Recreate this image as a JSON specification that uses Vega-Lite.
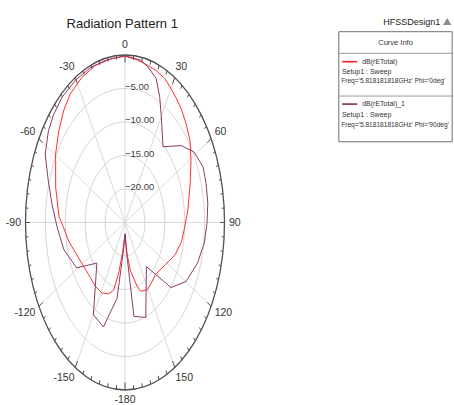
{
  "$schema": "https://vega.github.io/schema/vega-lite/v6.json",
  "width": 199,
  "height": 335,
  "autosize": {"type": "none"},
  "padding": {"left": 25.5, "top": 55, "right": 229.5, "bottom": 15},
  "background": "white",
  "config": {
    "view": {"stroke": null},
    "text": {"font": "Liberation Sans Narrow, Liberation Sans, Arial, sans-serif"}
  },
  "datasets": {
    "curves": [
      {"series": "Phi='0deg'", "angle": -180, "db": -23.3},
      {"series": "Phi='0deg'", "angle": -171.5, "db": -20.1},
      {"series": "Phi='0deg'", "angle": -168.2, "db": -17.3},
      {"series": "Phi='0deg'", "angle": -164.2, "db": -14.5},
      {"series": "Phi='0deg'", "angle": -158.9, "db": -13.6},
      {"series": "Phi='0deg'", "angle": -151.2, "db": -13.0},
      {"series": "Phi='0deg'", "angle": -141.8, "db": -12.9},
      {"series": "Phi='0deg'", "angle": -130.3, "db": -13.0},
      {"series": "Phi='0deg'", "angle": -114.4, "db": -12.2},
      {"series": "Phi='0deg'", "angle": -101.3, "db": -10.6},
      {"series": "Phi='0deg'", "angle": -91.3, "db": -9.3},
      {"series": "Phi='0deg'", "angle": -87, "db": -8.4},
      {"series": "Phi='0deg'", "angle": -73.2, "db": -6.8},
      {"series": "Phi='0deg'", "angle": -62.2, "db": -5.3},
      {"series": "Phi='0deg'", "angle": -59.8, "db": -4.8},
      {"series": "Phi='0deg'", "angle": -50.8, "db": -3.5},
      {"series": "Phi='0deg'", "angle": -42.9, "db": -2.3},
      {"series": "Phi='0deg'", "angle": -35.8, "db": -1.4},
      {"series": "Phi='0deg'", "angle": -26.7, "db": -0.8},
      {"series": "Phi='0deg'", "angle": -17.8, "db": -0.4},
      {"series": "Phi='0deg'", "angle": -7.6, "db": -0.3},
      {"series": "Phi='0deg'", "angle": 0, "db": -0.2},
      {"series": "Phi='0deg'", "angle": 6.4, "db": -0.5},
      {"series": "Phi='0deg'", "angle": 12.5, "db": -0.8},
      {"series": "Phi='0deg'", "angle": 18.9, "db": -1.0},
      {"series": "Phi='0deg'", "angle": 24.9, "db": -1.3},
      {"series": "Phi='0deg'", "angle": 30, "db": -1.9},
      {"series": "Phi='0deg'", "angle": 34.5, "db": -2.4},
      {"series": "Phi='0deg'", "angle": 39.6, "db": -2.9},
      {"series": "Phi='0deg'", "angle": 46.1, "db": -3.7},
      {"series": "Phi='0deg'", "angle": 53.2, "db": -4.6},
      {"series": "Phi='0deg'", "angle": 60.8, "db": -6.0},
      {"series": "Phi='0deg'", "angle": 70.3, "db": -7.6},
      {"series": "Phi='0deg'", "angle": 83.3, "db": -9.1},
      {"series": "Phi='0deg'", "angle": 91.4, "db": -9.9},
      {"series": "Phi='0deg'", "angle": 101.3, "db": -10.5},
      {"series": "Phi='0deg'", "angle": 110.9, "db": -11.5},
      {"series": "Phi='0deg'", "angle": 122, "db": -13.1},
      {"series": "Phi='0deg'", "angle": 135.5, "db": -14.1},
      {"series": "Phi='0deg'", "angle": 141.8, "db": -13.9},
      {"series": "Phi='0deg'", "angle": 150.6, "db": -13.5},
      {"series": "Phi='0deg'", "angle": 159.1, "db": -14.0},
      {"series": "Phi='0deg'", "angle": 162.1, "db": -15.0},
      {"series": "Phi='0deg'", "angle": 169.2, "db": -17.6},
      {"series": "Phi='0deg'", "angle": 173.5, "db": -20.2},
      {"series": "Phi='0deg'", "angle": 180, "db": -23.3},
      {"series": "Phi='90deg'", "angle": -180, "db": -23.3},
      {"series": "Phi='90deg'", "angle": -175, "db": -21.0},
      {"series": "Phi='90deg'", "angle": -170, "db": -13.5},
      {"series": "Phi='90deg'", "angle": -160.8, "db": -8.5},
      {"series": "Phi='90deg'", "angle": -150, "db": -9.1},
      {"series": "Phi='90deg'", "angle": -130.6, "db": -15.7},
      {"series": "Phi='90deg'", "angle": -119.2, "db": -11.1},
      {"series": "Phi='90deg'", "angle": -104.7, "db": -9.1},
      {"series": "Phi='90deg'", "angle": -92.1, "db": -7.9},
      {"series": "Phi='90deg'", "angle": -81.2, "db": -6.4},
      {"series": "Phi='90deg'", "angle": -71.9, "db": -4.7},
      {"series": "Phi='90deg'", "angle": -63, "db": -2.5},
      {"series": "Phi='90deg'", "angle": -54.6, "db": -1.4},
      {"series": "Phi='90deg'", "angle": -48.1, "db": -0.9},
      {"series": "Phi='90deg'", "angle": -40.1, "db": -0.5},
      {"series": "Phi='90deg'", "angle": -30.4, "db": -0.4},
      {"series": "Phi='90deg'", "angle": -20.5, "db": -0.3},
      {"series": "Phi='90deg'", "angle": -11.5, "db": -0.3},
      {"series": "Phi='90deg'", "angle": 0, "db": -0.1},
      {"series": "Phi='90deg'", "angle": 9.4, "db": -0.45},
      {"series": "Phi='90deg'", "angle": 13.9, "db": -1.1},
      {"series": "Phi='90deg'", "angle": 20, "db": -2.1},
      {"series": "Phi='90deg'", "angle": 24.9, "db": -4.3},
      {"series": "Phi='90deg'", "angle": 30, "db": -6.75},
      {"series": "Phi='90deg'", "angle": 40.2, "db": -10.2},
      {"series": "Phi='90deg'", "angle": 50.9, "db": -6.8},
      {"series": "Phi='90deg'", "angle": 58.8, "db": -4.7},
      {"series": "Phi='90deg'", "angle": 67.1, "db": -3.7},
      {"series": "Phi='90deg'", "angle": 74.1, "db": -3.8},
      {"series": "Phi='90deg'", "angle": 82.2, "db": -4.0},
      {"series": "Phi='90deg'", "angle": 90.3, "db": -4.4},
      {"series": "Phi='90deg'", "angle": 98.8, "db": -4.85},
      {"series": "Phi='90deg'", "angle": 108.3, "db": -5.8},
      {"series": "Phi='90deg'", "angle": 119.8, "db": -7.3},
      {"series": "Phi='90deg'", "angle": 130, "db": -9.9},
      {"series": "Phi='90deg'", "angle": 140.7, "db": -16.5},
      {"series": "Phi='90deg'", "angle": 159.8, "db": -9.9},
      {"series": "Phi='90deg'", "angle": 170.9, "db": -10.8},
      {"series": "Phi='90deg'", "angle": 175, "db": -20.5},
      {"series": "Phi='90deg'", "angle": 180, "db": -23.3}
    ],
    "rings": [{"db": -20}, {"db": -15}, {"db": -10}, {"db": -5}],
    "spokes": [
      {"angle": 0}, {"angle": 30}, {"angle": 60}, {"angle": 90}, {"angle": 120}, {"angle": 150},
      {"angle": 180}, {"angle": 210}, {"angle": 240}, {"angle": 270}, {"angle": 300}, {"angle": 330}
    ],
    "ticks": [
      {"angle": 0}, {"angle": 5}, {"angle": 10}, {"angle": 15}, {"angle": 20}, {"angle": 25},
      {"angle": 30}, {"angle": 35}, {"angle": 40}, {"angle": 45}, {"angle": 50}, {"angle": 55},
      {"angle": 60}, {"angle": 65}, {"angle": 70}, {"angle": 75}, {"angle": 80}, {"angle": 85},
      {"angle": 90}, {"angle": 95}, {"angle": 100}, {"angle": 105}, {"angle": 110}, {"angle": 115},
      {"angle": 120}, {"angle": 125}, {"angle": 130}, {"angle": 135}, {"angle": 140}, {"angle": 145},
      {"angle": 150}, {"angle": 155}, {"angle": 160}, {"angle": 165}, {"angle": 170}, {"angle": 175},
      {"angle": 180}, {"angle": 185}, {"angle": 190}, {"angle": 195}, {"angle": 200}, {"angle": 205},
      {"angle": 210}, {"angle": 215}, {"angle": 220}, {"angle": 225}, {"angle": 230}, {"angle": 235},
      {"angle": 240}, {"angle": 245}, {"angle": 250}, {"angle": 255}, {"angle": 260}, {"angle": 265},
      {"angle": 270}, {"angle": 275}, {"angle": 280}, {"angle": 285}, {"angle": 290}, {"angle": 295},
      {"angle": 300}, {"angle": 305}, {"angle": 310}, {"angle": 315}, {"angle": 320}, {"angle": 325},
      {"angle": 330}, {"angle": 335}, {"angle": 340}, {"angle": 345}, {"angle": 350}, {"angle": 355}
    ],
    "angleLabels": [
      {"angle": 0, "label": "0"}, {"angle": 30, "label": "30"}, {"angle": 60, "label": "60"},
      {"angle": 90, "label": "90"}, {"angle": 120, "label": "120"}, {"angle": 150, "label": "150"},
      {"angle": -180, "label": "-180"}, {"angle": -150, "label": "-150"}, {"angle": -120, "label": "-120"},
      {"angle": -90, "label": "-90"}, {"angle": -60, "label": "-60"}, {"angle": -30, "label": "-30"}
    ]
  },
  "encoding": {
    "x": {"field": "x", "type": "quantitative", "scale": {"domain": [-1, 1], "nice": false, "zero": false}, "axis": null},
    "y": {"field": "y", "type": "quantitative", "scale": {"domain": [-1, 1], "nice": false, "zero": false}, "axis": null}
  },
  "layer": [
    {
      "data": {"name": "rings"},
      "transform": [
        {"calculate": "(datum.db + 25) / 25", "as": "r"},
        {"calculate": "0", "as": "x"},
        {"calculate": "0", "as": "y"}
      ],
      "mark": {"type": "point", "shape": "M0,-1C0.328,-1,0.594,-0.552,0.594,0C0.594,0.552,0.328,1,0,1C-0.328,1,-0.594,0.552,-0.594,0C-0.594,-0.552,-0.328,-1,0,-1Z", "filled": false, "stroke": "#d6d6d6", "strokeWidth": 1, "opacity": 1},
      "encoding": {
        "size": {"field": "r", "type": "quantitative", "scale": {"type": "pow", "exponent": 2, "domain": [0, 1], "range": [0, 112225]}, "legend": null}
      }
    },
    {
      "data": {"name": "spokes"},
      "transform": [
        {"calculate": "0", "as": "x"},
        {"calculate": "0", "as": "y"},
        {"calculate": "sin(datum.angle * PI / 180)", "as": "xe"},
        {"calculate": "cos(datum.angle * PI / 180)", "as": "ye"}
      ],
      "mark": {"type": "rule", "stroke": "#dadada", "strokeWidth": 1},
      "encoding": {"x2": {"field": "xe"}, "y2": {"field": "ye"}}
    },
    {
      "data": {"values": [{"db": 0}]},
      "transform": [{"calculate": "0", "as": "x"}, {"calculate": "0", "as": "y"}],
      "mark": {"type": "point", "shape": "M0,-1C0.328,-1,0.594,-0.552,0.594,0C0.594,0.552,0.328,1,0,1C-0.328,1,-0.594,0.552,-0.594,0C-0.594,-0.552,-0.328,-1,0,-1Z", "filled": false, "stroke": "#505050", "strokeWidth": 1.3, "opacity": 1, "size": 112225}
    },
    {
      "data": {"name": "ticks"},
      "transform": [
        {"calculate": "datum.angle % 30 === 0 ? 0.955 : 0.975", "as": "inner"},
        {"calculate": "sin(datum.angle * PI / 180)", "as": "x"},
        {"calculate": "cos(datum.angle * PI / 180)", "as": "y"},
        {"calculate": "datum.inner * sin(datum.angle * PI / 180)", "as": "xi"},
        {"calculate": "datum.inner * cos(datum.angle * PI / 180)", "as": "yi"}
      ],
      "mark": {"type": "rule", "stroke": "#505050", "strokeWidth": 1},
      "encoding": {"x2": {"field": "xi"}, "y2": {"field": "yi"}}
    },
    {
      "data": {"name": "curves"},
      "transform": [
        {"calculate": "(datum.db + 25) / 25", "as": "r"},
        {"calculate": "datum.r * sin(datum.angle * PI / 180)", "as": "x"},
        {"calculate": "datum.r * cos(datum.angle * PI / 180)", "as": "y"}
      ],
      "mark": {"type": "line", "strokeWidth": 1, "interpolate": "linear"},
      "encoding": {
        "order": {"field": "angle", "type": "quantitative"},
        "color": {"field": "series", "type": "nominal", "scale": {"domain": ["Phi='0deg'", "Phi='90deg'"], "range": ["#ff3030", "#8a3d68"]}, "legend": null}
      }
    },
    {
      "data": {"name": "rings"},
      "transform": [{"calculate": "0", "as": "x"}, {"calculate": "(datum.db + 25) / 25", "as": "y"}],
      "mark": {"type": "text", "align": "left", "baseline": "alphabetic", "dy": 1, "fontSize": 9.5, "fill": "#404040"},
      "encoding": {"text": {"field": "db", "type": "quantitative", "format": ".2f"}}
    },
    {
      "data": {"name": "angleLabels"},
      "transform": [
        {"filter": "datum.angle > 0 && datum.angle < 180"},
        {"calculate": "1.075 * sin(datum.angle * PI / 180)", "as": "x"},
        {"calculate": "1.075 * cos(datum.angle * PI / 180)", "as": "y"}
      ],
      "mark": {"type": "text", "align": "left", "baseline": "middle", "dx": -3, "fontSize": 10.5, "fill": "#333333"},
      "encoding": {"text": {"field": "label"}}
    },
    {
      "data": {"name": "angleLabels"},
      "transform": [
        {"filter": "datum.angle < 0 && datum.angle > -180"},
        {"calculate": "1.075 * sin(datum.angle * PI / 180)", "as": "x"},
        {"calculate": "1.075 * cos(datum.angle * PI / 180)", "as": "y"}
      ],
      "mark": {"type": "text", "align": "right", "baseline": "middle", "dx": 3, "fontSize": 10.5, "fill": "#333333"},
      "encoding": {"text": {"field": "label"}}
    },
    {
      "data": {"name": "angleLabels"},
      "transform": [
        {"filter": "datum.angle === 0 || datum.angle === -180"},
        {"calculate": "1.06 * sin(datum.angle * PI / 180)", "as": "x"},
        {"calculate": "1.06 * cos(datum.angle * PI / 180)", "as": "y"}
      ],
      "mark": {"type": "text", "align": "center", "baseline": "middle", "fontSize": 10.5, "fill": "#333333"},
      "encoding": {"text": {"field": "label"}}
    },
    {
      "data": {"values": [{"label": "Radiation Pattern 1"}]},
      "transform": [{"calculate": "-0.028", "as": "x"}, {"calculate": "1.159", "as": "y"}],
      "mark": {"type": "text", "align": "center", "baseline": "alphabetic", "fontSize": 13, "fill": "#222222"},
      "encoding": {"text": {"field": "label"}}
    },
    {
      "data": {"values": [{"label": "HFSSDesign1"}]},
      "transform": [{"calculate": "2.882", "as": "x"}, {"calculate": "1.199", "as": "y"}],
      "mark": {"type": "text", "align": "center", "baseline": "middle", "fontSize": 9, "fill": "#222222"},
      "encoding": {"text": {"field": "label"}}
    },
    {
      "data": {"values": [{"label": "logo"}]},
      "transform": [{"calculate": "3.238", "as": "x"}, {"calculate": "1.2", "as": "y"}],
      "mark": {"type": "point", "shape": "triangle-up", "filled": true, "fill": "#8c8c8c", "opacity": 1, "size": 70}
    },
    {
      "data": {"values": [{"label": "Curve Info"}]},
      "transform": [
        {"calculate": "2.149", "as": "x"}, {"calculate": "3.288", "as": "x2"},
        {"calculate": "1.139", "as": "y"}, {"calculate": "0.482", "as": "y2"}
      ],
      "mark": {"type": "rect", "fill": "white", "stroke": "#6e6e6e", "strokeWidth": 1},
      "encoding": {"x2": {"field": "x2"}, "y2": {"field": "y2"}}
    },
    {
      "data": {"values": [{"label": "header"}, {"label": "entries"}]},
      "transform": [
        {"calculate": "2.149", "as": "x"}, {"calculate": "3.288", "as": "x2"},
        {"calculate": "datum.label === 'header' ? 1.01 : 0.755", "as": "y"}
      ],
      "mark": {"type": "rule", "stroke": "#9a9a9a", "strokeWidth": 1},
      "encoding": {"x2": {"field": "x2"}}
    },
    {
      "data": {"values": [{"label": "Curve Info"}]},
      "transform": [{"calculate": "2.719", "as": "x"}, {"calculate": "1.07", "as": "y"}],
      "mark": {"type": "text", "align": "center", "baseline": "middle", "fontSize": 7.5, "fill": "#333333"},
      "encoding": {"text": {"field": "label"}}
    },
    {
      "data": {"values": [{"series": "Phi='0deg'"}]},
      "transform": [{"calculate": "2.183", "as": "x"}, {"calculate": "2.334", "as": "x2"}, {"calculate": "0.96", "as": "y"}],
      "mark": {"type": "rule", "stroke": "#ff2020", "strokeWidth": 1.6},
      "encoding": {"x2": {"field": "x2"}}
    },
    {
      "data": {"values": [{"series": "Phi='90deg'"}]},
      "transform": [{"calculate": "2.183", "as": "x"}, {"calculate": "2.334", "as": "x2"}, {"calculate": "0.707", "as": "y"}],
      "mark": {"type": "rule", "stroke": "#7c2c58", "strokeWidth": 1.6},
      "encoding": {"x2": {"field": "x2"}}
    },
    {
      "data": {"values": [{"label": "dB(rETotal)"}]},
      "transform": [{"calculate": "2.384", "as": "x"}, {"calculate": "0.96", "as": "y"}],
      "mark": {"type": "text", "align": "left", "baseline": "middle", "fontSize": 7, "fill": "#333333"},
      "encoding": {"text": {"field": "label"}}
    },
    {
      "data": {"values": [{"label": "Setup1 : Sweep"}]},
      "transform": [{"calculate": "2.18", "as": "x"}, {"calculate": "0.9", "as": "y"}],
      "mark": {"type": "text", "align": "left", "baseline": "middle", "fontSize": 7, "fill": "#333333"},
      "encoding": {"text": {"field": "label"}}
    },
    {
      "data": {"values": [{"label": "Freq='5.818181818GHz' Phi='0deg'"}]},
      "transform": [{"calculate": "2.173", "as": "x"}, {"calculate": "0.845", "as": "y"}],
      "mark": {"type": "text", "align": "left", "baseline": "middle", "fontSize": 6.6, "fill": "#333333"},
      "encoding": {"text": {"field": "label"}}
    },
    {
      "data": {"values": [{"label": "dB(rETotal)_1"}]},
      "transform": [{"calculate": "2.384", "as": "x"}, {"calculate": "0.707", "as": "y"}],
      "mark": {"type": "text", "align": "left", "baseline": "middle", "fontSize": 7, "fill": "#333333"},
      "encoding": {"text": {"field": "label"}}
    },
    {
      "data": {"values": [{"label": "Setup1 : Sweep"}]},
      "transform": [{"calculate": "2.18", "as": "x"}, {"calculate": "0.642", "as": "y"}],
      "mark": {"type": "text", "align": "left", "baseline": "middle", "fontSize": 7, "fill": "#333333"},
      "encoding": {"text": {"field": "label"}}
    },
    {
      "data": {"values": [{"label": "Freq='5.818181818GHz' Phi='90deg'"}]},
      "transform": [{"calculate": "2.173", "as": "x"}, {"calculate": "0.582", "as": "y"}],
      "mark": {"type": "text", "align": "left", "baseline": "middle", "fontSize": 6.6, "fill": "#333333"},
      "encoding": {"text": {"field": "label"}}
    }
  ]
}
